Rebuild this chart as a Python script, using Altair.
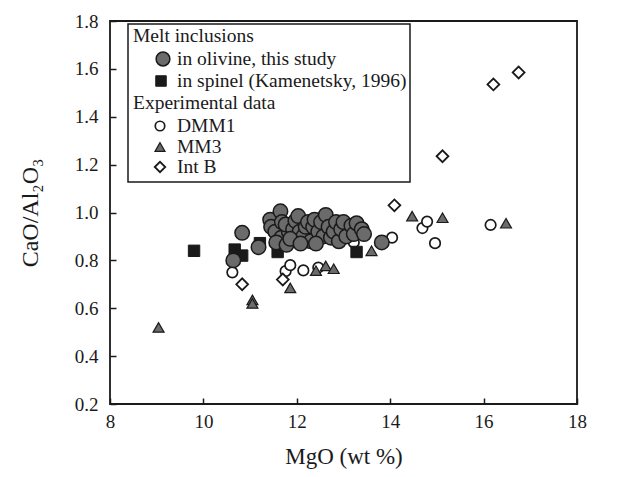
import altair as alt
import pandas as pd

# ---------------- data ----------------
olivine_mgo = [10.64, 10.83, 11.18, 11.43, 11.45, 11.54, 11.65, 11.68, 11.67, 11.56,
               11.78, 11.83, 11.76, 11.92, 11.97, 12.03, 12.06, 12.14, 12.19, 12.24,
               12.30, 12.35, 12.38, 12.46, 12.52, 12.57, 12.62, 12.68, 12.73, 12.79,
               12.84, 12.90, 12.95, 13.00, 13.06, 13.17, 13.22, 13.28, 13.39, 13.44,
               13.82, 11.86, 12.08, 12.41]
olivine_ratio = [0.800, 0.915, 0.855, 0.970, 0.940, 0.920, 1.005, 0.960, 0.895, 0.875,
                 0.865, 0.920, 0.950, 0.930, 0.965, 0.985, 0.920, 0.900, 0.940, 0.960,
                 0.880, 0.940, 0.970, 0.920, 0.960, 0.900, 0.990, 0.940, 0.895, 0.920,
                 0.960, 0.880, 0.930, 0.960, 0.900, 0.945, 0.910, 0.955, 0.930, 0.910,
                 0.875, 0.890, 0.870, 0.870]

spinel_mgo = [9.80, 10.67, 10.83, 11.21, 11.59, 13.28]
spinel_ratio = [0.840, 0.845, 0.820, 0.872, 0.835, 0.835]

dmm1_mgo = [10.62, 11.76, 11.86, 12.14, 12.46, 13.22, 14.04, 14.69, 14.79, 14.96, 16.15]
dmm1_ratio = [0.750, 0.755, 0.780, 0.758, 0.770, 0.875, 0.895, 0.935, 0.962, 0.872, 0.948]

mm3_mgo = [9.04, 11.05, 11.05, 11.86, 12.41, 12.62, 12.79, 13.60, 14.47, 15.12, 16.48]
mm3_ratio = [0.520, 0.635, 0.620, 0.685, 0.757, 0.777, 0.765, 0.840, 0.985, 0.978, 0.955]

intb_mgo = [10.83, 11.70, 14.09, 15.12, 16.21, 16.75]
intb_ratio = [0.700, 0.720, 1.030, 1.235, 1.535, 1.585]

x_ticks = [8, 10, 12, 14, 16, 18]
y_ticks = [0.2, 0.4, 0.6, 0.8, 1.0, 1.2, 1.4, 1.6, 1.8]

legend_headers = ["Melt inclusions", "Experimental data"]
legend_items = ["in olivine, this study", "in spinel (Kamenetsky, 1996)", "DMM1", "MM3", "Int B"]

# ---------------- styling ----------------
FONT = "Liberation Serif"
INK = "#1a1a1a"
GRAY = "#6b6b6b"
W, H = 467, 383

xs = alt.Scale(domain=[8, 18], nice=False, zero=False)
ys = alt.Scale(domain=[0.2, 1.8], nice=False, zero=False)

xaxis = alt.Axis(values=x_ticks, format="d", grid=False, domain=False, tickSize=6, offset=-6,
                 tickColor=INK, tickWidth=1.5, labelFont=FONT, labelFontSize=19, labelColor=INK,
                 labelPadding=8, labelFlush=False, titleFont=FONT, titleFontSize=23,
                 titleFontWeight="normal", titleColor=INK, titlePadding=14)
yaxis = alt.Axis(values=y_ticks, format=".1f", grid=False, domain=False, tickSize=6, offset=-6,
                 tickColor=INK, tickWidth=1.5, labelFont=FONT, labelFontSize=19, labelColor=INK,
                 labelPadding=12, labelFlush=False, titleFont=FONT, titleFontSize=24,
                 titleFontWeight="normal", titleColor=INK, titlePadding=32)


def pts(mgo, ratio, shape, size, fill, stroke, sw):
    df = pd.DataFrame({"MgO": mgo, "ratio": ratio})
    return alt.Chart(df).mark_point(shape=shape, size=size, filled=True, fill=fill, stroke=stroke,
                                    strokeWidth=sw, opacity=1).encode(
        x=alt.X("MgO:Q", scale=xs, axis=xaxis, title="MgO (wt %)"),
        y=alt.Y("ratio:Q", scale=ys, axis=yaxis, title="CaO/Al₂O₃"),
    )


one = pd.DataFrame({"a": [0]})


def lg_sym(x, y, shape, size, fill, stroke, sw):
    return alt.Chart(one).mark_point(shape=shape, size=size, filled=True, fill=fill, stroke=stroke,
                                     strokeWidth=sw, opacity=1).encode(x=alt.value(x), y=alt.value(y))


def lg_text(x, y, txt):
    return alt.Chart(one).mark_text(align="left", baseline="middle", font=FONT, fontSize=19.5,
                                    color=INK).encode(x=alt.value(x), y=alt.value(y), text=alt.value(txt))


layers = [
    pts(dmm1_mgo, dmm1_ratio, "circle", 110, "white", INK, 1.7),
    pts(mm3_mgo, mm3_ratio, "triangle-up", 120, GRAY, INK, 1.2),
    pts(intb_mgo, intb_ratio, "diamond", 140, "white", INK, 1.8),
    pts(spinel_mgo, spinel_ratio, "square", 130, INK, INK, 1.0),
    pts(olivine_mgo, olivine_ratio, "circle", 210, GRAY, INK, 1.5),
]

# legend box (positions in pixels of the plot area)
box = alt.Chart(one).mark_rect(fill="white", stroke=INK, strokeWidth=1.5).encode(
    x=alt.value(18), x2=alt.value(300), y=alt.value(3), y2=alt.value(161))
rows = [15, 38, 60, 82, 105, 126, 146]
legend = [
    box,
    lg_text(23, rows[0], legend_headers[0]),
    lg_sym(53, rows[1], "circle", 190, GRAY, INK, 1.5),
    lg_text(67, rows[1], legend_items[0]),
    lg_sym(51, rows[2], "square", 110, INK, INK, 1.0),
    lg_text(67, rows[2], legend_items[1]),
    lg_text(23, rows[3], legend_headers[1]),
    lg_sym(50, rows[4], "circle", 90, "white", INK, 1.7),
    lg_text(67, rows[4], legend_items[2]),
    lg_sym(50, rows[5], "triangle-up", 100, GRAY, INK, 1.2),
    lg_text(67, rows[5], legend_items[3]),
    lg_sym(50, rows[6], "diamond", 110, "white", INK, 1.8),
    lg_text(67, rows[6], legend_items[4]),
]

chart = alt.layer(*layers, *legend).properties(
    width=W, height=H,
    autosize=alt.AutoSizeParams(type="none"),
    padding={"left": 102, "top": 13, "right": 45, "bottom": 70},
    background="white",
).configure_view(stroke=INK, strokeWidth=1.8)

chart.save("out.html", embed_options={"renderer": "svg", "actions": False})
